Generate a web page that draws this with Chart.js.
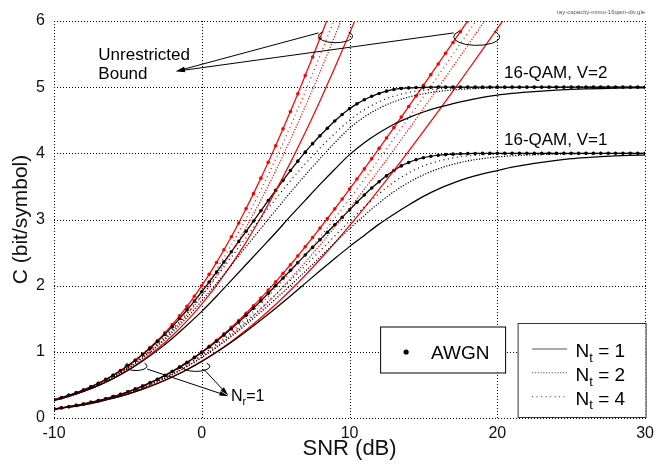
<!DOCTYPE html>
<html>
<head>
<meta charset="utf-8">
<script src="https://cdn.jsdelivr.net/npm/chart.js@4.4.1/dist/chart.umd.min.js"></script>
<style>
  html, body { margin: 0; padding: 0; background: #fff; }
  #wrap { width: 660px; height: 465px; }
</style>
</head>
<body>
<div id="wrap"><canvas id="capChart" width="660" height="465"></canvas></div>
<script>
// SNR grids in dB
const snrHalf = [-10,-9.5,-9,-8.5,-8,-7.5,-7,-6.5,-6,-5.5,-5,-4.5,-4,-3.5,-3,-2.5,-2,-1.5,-1,-0.5,
  0,0.5,1,1.5,2,2.5,3,3.5,4,4.5,5,5.5,6,6.5,7,7.5,8,8.5,9,9.5,10,10.5,11,11.5,12,12.5,13,13.5,14,14.5,
  15,15.5,16,16.5,17,17.5,18,18.5,19,19.5,20,20.5,21,21.5,22,22.5,23,23.5,24,24.5,25,25.5,26,26.5,
  27,27.5,28,28.5,29,29.5,30];
const snrStep = [-10,-9,-8,-7,-6,-5,-4,-3,-2,-1,0,1,2,3,4,5,6,7,8,9,10,11,12,13,14,15,16,17,18,19,20,
  21,22,23,24,25,26,27,28,29,30];

const xTicks = [-10, 0, 10, 20, 30];
const yTicks = [0, 1, 2, 3, 4, 5, 6];

// unrestricted (gaussian input) bound, red
const gaussAwgnV1 = [0.1375,0.1534,0.1710,0.1906,0.2122,0.2361,0.2625,0.2915,0.3233,0.3582,0.3964,0.4381,
  0.4835,0.5327,0.5861,0.6437,0.7058,0.7722,0.8434,0.9194,1.0000,1.0854,1.1757,1.2708,1.3701,1.4741,
  1.5826,1.6956,1.8123,1.9328,2.0573,2.1852,2.3165,2.4507,2.5879,2.7275,2.8699,3.0142,3.1607,3.3093,
  3.4594,3.6111,3.7646,3.9194,4.0747,4.2311,4.3889,4.5479,4.7070,4.8669,5.0277,5.1890,5.3509,5.5132,
  5.6758,5.8387,6.0022];
const gaussAwgnV2 = [0.275,0.307,0.342,0.381,0.424,0.472,0.525,0.583,0.647,0.716,0.793,0.876,0.967,1.065,
  1.172,1.287,1.412,1.544,1.687,1.839,2.000,2.171,2.351,2.542,2.740,2.948,3.165,3.391,3.625,3.866,4.115,
  4.370,4.633,4.901,5.176,5.455,5.740,6.028];
const gaussNt1V1 = [0.132,0.163,0.200,0.245,0.299,0.362,0.436,0.522,0.621,0.734,0.860,1.002,1.158,1.330,
  1.516,1.716,1.930,2.157,2.396,2.646,2.907,3.176,3.454,3.740,4.032,4.330,4.633,4.940,5.252,5.567,5.884,6.204];
const gaussNt2V1 = [0.135,0.167,0.206,0.253,0.310,0.378,0.457,0.551,0.658,0.782,0.921,1.078,1.251,1.441,
  1.647,1.868,2.104,2.353,2.614,2.885,3.166,3.456,3.752,4.055,4.363,4.676,4.991,5.310,5.632,5.956,6.282];
const gaussNt4V1 = [0.136,0.169,0.209,0.258,0.317,0.387,0.470,0.568,0.681,0.811,0.958,1.124,1.307,1.508,
  1.725,1.958,2.206,2.466,2.738,3.020,3.311,3.609,3.913,4.222,4.536,4.853,5.174,5.496,5.821,6.148];
const gaussNt1V2 = [0.264,0.326,0.401,0.491,0.598,0.724,0.872,1.045,1.242,1.467,1.721,2.004,2.317,2.659,
  3.031,3.432,3.860,4.314,4.792,5.292,5.813,6.352];
const gaussNt2V2 = [0.269,0.334,0.412,0.507,0.620,0.755,0.915,1.101,1.317,1.563,1.842,2.155,2.502,2.882,
  3.294,3.736,4.209,4.707,5.228,5.771,6.333];
const gaussNt4V2 = [0.272,0.338,0.418,0.516,0.634,0.774,0.941,1.136,1.363,1.622,1.916,2.247,2.614,3.015,
  3.450,3.915,4.411,4.932,5.476,6.039];

// 16-QAM, black
const qamAwgnV1 = [0.1375,0.1534,0.1710,0.1905,0.2121,0.2360,0.2623,0.2912,0.3229,0.3577,0.3957,0.4371,
  0.4822,0.5310,0.5838,0.6405,0.7015,0.7665,0.8360,0.9100,0.9895,1.0730,1.1610,1.2530,1.3490,1.4490,
  1.5530,1.6600,1.7700,1.8840,2.0000,2.1160,2.2320,2.3480,2.4630,2.5780,2.6930,2.8070,2.9200,3.0320,
  3.1450,3.2600,3.3700,3.4750,3.5700,3.6600,3.7400,3.8100,3.8620,3.9030,3.9340,3.9560,3.9710,3.9810,
  3.9880,3.9930,3.9960,3.9980,3.9990,4,4,4,4,4,4,4,4,4,4,4,4,4,4,4,4,4,4,4,4,4,4];
const qamAwgnV2 = [0.275,0.307,0.342,0.381,0.424,0.472,0.524,0.582,0.645,0.714,0.789,0.870,0.958,1.053,
  1.155,1.264,1.380,1.503,1.632,1.767,1.908,2.055,2.205,2.358,2.512,2.667,2.822,2.977,3.132,3.286,3.440,
  3.592,3.740,3.882,4.018,4.146,4.266,4.380,4.488,4.588,4.675,4.748,4.810,4.862,4.905,4.940,4.965,4.980,
  4.989,4.994,4.997,4.999,5,5,5,5,5,5,5,5,5,5,5,5,5,5,5,5,5,5,5,5,5,5,5,5,5,5,5,5,5];
const qamNt1V1 = [0.132,0.163,0.200,0.245,0.299,0.362,0.436,0.521,0.619,0.730,0.855,0.993,1.144,1.307,
  1.480,1.660,1.845,2.035,2.225,2.410,2.590,2.760,2.930,3.080,3.220,3.350,3.460,3.550,3.630,3.690,3.740,
  3.790,3.830,3.865,3.895,3.920,3.937,3.950,3.960,3.968,3.974];
const qamNt2V1 = [0.135,0.167,0.206,0.253,0.310,0.377,0.456,0.549,0.655,0.777,0.914,1.066,1.232,1.412,
  1.603,1.800,2.005,2.215,2.430,2.645,2.860,3.060,3.250,3.420,3.560,3.675,3.765,3.835,3.885,3.920,3.945,
  3.962,3.974,3.982,3.988,3.992,3.995,3.997,3.998,3.999,3.999];
const qamNt4V1 = [0.136,0.169,0.209,0.258,0.316,0.386,0.469,0.566,0.678,0.805,0.948,1.105,1.277,1.462,
  1.660,1.865,2.080,2.300,2.525,2.750,2.975,3.190,3.390,3.565,3.705,3.810,3.880,3.930,3.960,3.977,3.987,
  3.993,3.996,3.998,3.999,4,4,4,4,4,4];
const qamNt1V2 = [0.264,0.326,0.400,0.490,0.595,0.718,0.860,1.022,1.203,1.402,1.612,1.840,2.080,2.320,
  2.560,2.800,3.050,3.290,3.530,3.760,3.980,4.160,4.310,4.440,4.540,4.625,4.695,4.750,4.800,4.845,4.880,
  4.905,4.925,4.942,4.955,4.965,4.973,4.979,4.984,4.988,4.991];
const qamNt2V2 = [0.269,0.333,0.411,0.505,0.617,0.749,0.905,1.085,1.290,1.520,1.770,2.035,2.310,2.590,
  2.865,3.140,3.410,3.670,3.920,4.160,4.380,4.550,4.680,4.780,4.850,4.900,4.935,4.958,4.973,4.983,4.989,
  4.993,4.995,4.997,4.998,4.999,5,5,5,5,5];
const qamNt4V2 = [0.272,0.337,0.417,0.514,0.630,0.768,0.930,1.120,1.335,1.580,1.850,2.135,2.430,2.730,
  3.025,3.310,3.585,3.840,4.080,4.300,4.500,4.660,4.780,4.865,4.920,4.955,4.975,4.986,4.992,4.995,4.997,
  4.998,4.999,5,5,5,5,5,5,5,5];

const FONT = "'Liberation Sans', Arial, Helvetica, sans-serif";
const RED = '#ff0000';
const BLACK = '#000000';
const DASH_NT2 = [1.2, 1.6];
const DASH_NT4 = [1, 3.5];

const pts = (xs, ys) => ys.map((v, i) => ({ x: xs[i], y: v }));

const curve = (label, xs, ys, color, dash, dots) => ({
  label: label,
  data: pts(xs, ys),
  borderColor: color,
  backgroundColor: color,
  borderWidth: dash.length ? 1.2 : 1.25,
  borderDash: dash,
  pointRadius: dots ? 1.8 : 0,
  pointHoverRadius: 0,
  pointBorderWidth: 0,
  pointBackgroundColor: color,
  cubicInterpolationMode: 'monotone',
  fill: false
});

const datasets = [
  curve('16-QAM V=1 Nt=1', snrStep, qamNt1V1, BLACK, [], false),
  curve('16-QAM V=1 Nt=2', snrStep, qamNt2V1, BLACK, DASH_NT2, false),
  curve('16-QAM V=1 Nt=4', snrStep, qamNt4V1, BLACK, DASH_NT4, false),
  curve('16-QAM V=2 Nt=1', snrStep, qamNt1V2, BLACK, [], false),
  curve('16-QAM V=2 Nt=2', snrStep, qamNt2V2, BLACK, DASH_NT2, false),
  curve('16-QAM V=2 Nt=4', snrStep, qamNt4V2, BLACK, DASH_NT4, false),
  curve('Bound V=1 Nt=1', snrStep, gaussNt1V1, RED, [], false),
  curve('Bound V=1 Nt=2', snrStep, gaussNt2V1, RED, DASH_NT2, false),
  curve('Bound V=1 Nt=4', snrStep, gaussNt4V1, RED, DASH_NT4, false),
  curve('Bound V=2 Nt=1', snrStep, gaussNt1V2, RED, [], false),
  curve('Bound V=2 Nt=2', snrStep, gaussNt2V2, RED, DASH_NT2, false),
  curve('Bound V=2 Nt=4', snrStep, gaussNt4V2, RED, DASH_NT4, false),
  curve('16-QAM V=1 AWGN', snrHalf, qamAwgnV1, BLACK, [], true),
  curve('16-QAM V=2 AWGN', snrHalf, qamAwgnV2, BLACK, [], true),
  curve('Bound V=1 AWGN', snrHalf, gaussAwgnV1, RED, [], true),
  curve('Bound V=2 AWGN', snrHalf, gaussAwgnV2, RED, [], true)
];

function arrow(ctx, x1, y1, x2, y2) {
  const a = Math.atan2(y2 - y1, x2 - x1), len = 9, half = 2.3;
  const c = Math.cos(a), s = Math.sin(a);
  ctx.beginPath();
  ctx.moveTo(x1, y1);
  ctx.lineTo(x2 - c * len * 0.7, y2 - s * len * 0.7);
  ctx.stroke();
  ctx.beginPath();
  ctx.moveTo(x2, y2);
  ctx.lineTo(x2 - c * len + s * half, y2 - s * len - c * half);
  ctx.lineTo(x2 - c * len - s * half, y2 - s * len + c * half);
  ctx.closePath();
  ctx.fill();
}

function openEllipse(ctx, cx, cy, rx, ry) {
  ctx.beginPath();
  ctx.ellipse(cx, cy, rx, ry, 0, -0.22 * Math.PI, 1.22 * Math.PI);
  ctx.stroke();
}

function subText(ctx, x, y, main, sub, rest, size) {
  ctx.font = size + 'px ' + FONT;
  ctx.fillText(main, x, y);
  let w = ctx.measureText(main).width;
  ctx.font = Math.round(size * 0.66) + 'px ' + FONT;
  ctx.fillText(sub, x + w, y + size * 0.24);
  w += ctx.measureText(sub).width;
  ctx.font = size + 'px ' + FONT;
  ctx.fillText(rest, x + w, y);
}

// dotted grid and frame at the scale ticks
const dottedGrid = {
  id: 'dottedGrid',
  beforeDatasetsDraw(chart) {
    const { ctx, chartArea: a, scales: { x, y } } = chart;
    ctx.save();
    ctx.strokeStyle = '#000';
    ctx.lineWidth = 1;
    ctx.setLineDash([1, 2]);
    x.ticks.forEach(t => {
      const px = Math.round(x.getPixelForValue(t.value)) + 0.5;
      ctx.beginPath();
      ctx.moveTo(px, a.top);
      ctx.lineTo(px, a.bottom);
      ctx.stroke();
    });
    y.ticks.forEach(t => {
      const py = Math.round(y.getPixelForValue(t.value)) + 0.5;
      ctx.beginPath();
      ctx.moveTo(a.left, py);
      ctx.lineTo(a.right + 1, py);
      ctx.stroke();
    });
    ctx.restore();
  }
};

const annotations = {
  id: 'annotations',
  afterDraw(chart) {
    const { ctx, chartArea: area, scales } = chart;
    const X = v => scales.x.getPixelForValue(v);
    const Y = v => scales.y.getPixelForValue(v);
    ctx.save();
    ctx.strokeStyle = '#000';
    ctx.fillStyle = '#000';
    ctx.lineWidth = 1;
    ctx.setLineDash([]);
    ctx.textBaseline = 'alphabetic';
    ctx.textAlign = 'left';

    // unrestricted bound callout
    ctx.font = '17px ' + FONT;
    ctx.fillText('Unrestricted', X(-7.0), Y(5.41));
    ctx.fillText('Bound', X(-7.0), Y(5.12));
    openEllipse(ctx, X(9.05), Y(5.77), 17, 6.5);
    openEllipse(ctx, X(18.6), Y(5.76), 23, 8.5);
    arrow(ctx, X(7.9), Y(5.82), X(-1.75), Y(5.24));
    arrow(ctx, X(17.05), Y(5.82), X(-1.75), Y(5.24));

    // curve group labels
    ctx.fillText('16-QAM, V=2', X(20.45), Y(5.14));
    ctx.fillText('16-QAM, V=1', X(20.45), Y(4.12));

    // receive antenna callout
    openEllipse(ctx, X(-4.45), Y(0.785), 11, 4.5);
    openEllipse(ctx, X(-0.4), Y(0.78), 14, 5);
    arrow(ctx, X(-3.7), Y(0.74), X(1.8), Y(0.33));
    arrow(ctx, X(0.12), Y(0.74), X(1.8), Y(0.34));
    subText(ctx, X(1.98), Y(0.25), 'N', 'r', '=1', 16);

    // AWGN legend box
    const bx = area.right - 265, by = area.bottom - 91.5;
    ctx.fillStyle = '#fff';
    ctx.fillRect(bx, by, 125, 46);
    ctx.strokeRect(bx + 0.5, by + 0.5, 125, 46);
    ctx.fillStyle = '#000';
    ctx.beginPath();
    ctx.arc(bx + 26, by + 25.5, 2.6, 0, 2 * Math.PI);
    ctx.fill();
    ctx.font = '19px ' + FONT;
    ctx.fillText('AWGN', bx + 51, by + 32.5);

    // Nt legend box
    const lx = area.right - 127.5, ly = area.bottom - 95;
    ctx.fillStyle = '#fff';
    ctx.fillRect(lx, ly, 128, 95);
    ctx.strokeStyle = '#333';
    ctx.strokeRect(lx + 0.5, ly + 0.5, 128, 94);
    ctx.fillStyle = '#000';
    const rows = [['1', []], ['2', DASH_NT2], ['4', DASH_NT4]];
    rows.forEach((r, i) => {
      const cy = ly + 26 + i * 23.8;
      ctx.strokeStyle = '#555';
      ctx.lineWidth = 1.1;
      ctx.setLineDash(r[1]);
      ctx.beginPath();
      ctx.moveTo(lx + 14.5, cy);
      ctx.lineTo(lx + 49.5, cy);
      ctx.stroke();
      ctx.setLineDash([]);
      subText(ctx, lx + 58, cy + 8.3, 'N', 't', ' = ' + r[0], 19);
    });

    // source file tag
    ctx.fillStyle = '#555';
    ctx.font = '6px ' + FONT;
    ctx.textAlign = 'right';
    ctx.fillText('ray-capacity-mimo-16qam-div.gle', area.right, 14);
    ctx.restore();
  }
};

const ctx = document.getElementById('capChart').getContext('2d');

const capChart = new Chart(ctx, {
  type: 'line',
  data: { datasets: datasets },
  plugins: [dottedGrid, annotations],
  options: {
    responsive: false,
    animation: false,
    devicePixelRatio: 1,
    layout: { padding: { top: 21, right: 10, left: 0, bottom: 0 } },
    plugins: { legend: { display: false }, tooltip: { enabled: false } },
    scales: {
      x: {
        type: 'linear',
        min: xTicks[0],
        max: xTicks[xTicks.length - 1],
        afterBuildTicks: s => { s.ticks = xTicks.map(v => ({ value: v })); },
        afterFit: s => { s.height = 47; },
        ticks: { font: { family: FONT, size: 16 }, color: '#111', padding: 6, maxRotation: 0 },
        grid: { display: false, drawTicks: false, tickLength: 0 },
        border: { display: false },
        title: { display: true, text: 'SNR (dB)', color: '#111',
                 font: { family: FONT, size: 22 }, padding: { top: 0, bottom: 3 } }
      },
      y: {
        type: 'linear',
        min: yTicks[0],
        max: yTicks[yTicks.length - 1],
        afterBuildTicks: s => { s.ticks = yTicks.map(v => ({ value: v })); },
        afterFit: s => { s.width = 54; },
        ticks: { font: { family: FONT, size: 16 }, color: '#111', padding: 9 },
        grid: { display: false, drawTicks: false, tickLength: 0 },
        border: { display: false },
        title: { display: true, text: 'C (bit/symbol)', color: '#111',
                 font: { family: FONT, size: 21 }, padding: { top: 9, bottom: 0 } }
      }
    }
  }
});
</script>
</body>
</html>
